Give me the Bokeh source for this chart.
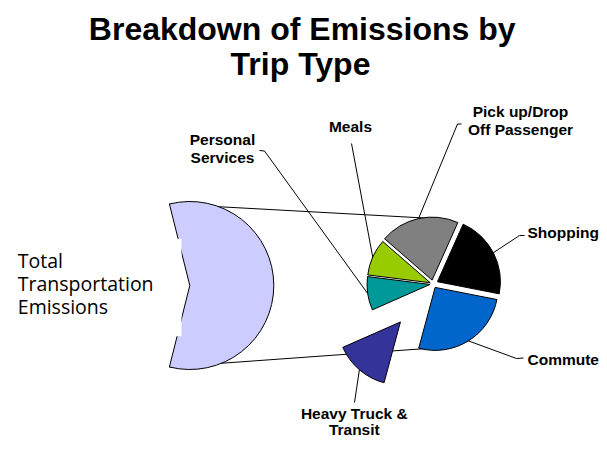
import numpy as np
from bokeh.plotting import figure
from bokeh.models import Range1d, ColumnDataSource
from bokeh.core.properties import value
from bokeh.embed import file_html
from bokeh.resources import INLINE

# ---------------- data ----------------
categories = ["Pick up/Drop Off Passenger", "Shopping", "Commute",
              "Heavy Truck & Transit", "Personal Services", "Meals"]
shares = [20.3, 21.4, 26.1, 14.2, 8.6, 9.4]          # % of emissions
label_lines = [["Pick up/Drop", "Off Passenger"], ["Shopping"], ["Commute"],
               ["Heavy Truck &", "Transit"], ["Personal", "Services"], ["Meals"]]
colors = ["#808080", "#000000", "#0066CC", "#333399", "#009999", "#99CC00"]

total_label_lines = ["Total", "Transportation", "Emissions"]
total_share = 57.8                                  # % of circle drawn for the total
total_color = "#CCCCFF"

title_lines = ["Breakdown of Emissions by", "Trip Type"]

# ---------------- layout (reference pixels, y down) ----------------
REF_H = 453
PW, PH = 599, 437
TEXT_DY = 7          # compensation for rendered baseline offset
def Y(y):
    return REF_H - y
def TY(y):
    return REF_H - (y - TEXT_DY)

PIE_C = (432.5, 283.5)
PIE_R = 63
PIE_START = 139.0
explode = [4, 5, 4, 50, 3, 3]
TOT_C = (189.3, 285.0)
TOT_R = 84

label_pos = [(520, 118.3, "center", 18), (527, 239.3, "left", 18), (527, 365.7, "left", 18),
             (353.8, 419.5, "center", 16.5), (222, 145.7, "center", 18), (350, 133.3, "center", 18)]
leader_pts = [[(461, 123.5), (457, 123.5)], [(524, 235), (519, 235)],
              [(523, 357.5), (516, 358)], [(354, 402)],
              [(259, 150), (264, 150.5)], [(351, 143)]]
conn_ends = [(424, 217.5), (440, 347)]

p = figure(width=PW, height=PH, x_range=Range1d(0, PW), y_range=Range1d(Y(PH), Y(0)),
           x_axis_location=None, y_axis_location=None, toolbar_location=None,
           min_border=0, outline_line_color=None, output_backend="svg", title=None)
p.grid.visible = False

# total pie wedge geometry
a = np.deg2rad(total_share / 100 * 360 / 2)
tx, ty = TOT_C[0], Y(TOT_C[1])
corners = [(tx + TOT_R * np.cos(a), ty + TOT_R * np.sin(a)),
           (tx + TOT_R * np.cos(-a), ty + TOT_R * np.sin(-a))]

# connector lines
p.multi_line(xs=[[corners[i][0], conn_ends[i][0]] for i in range(2)],
             ys=[[corners[i][1], Y(conn_ends[i][1])] for i in range(2)],
             line_color="black", line_width=1)

p.wedge(x=tx, y=ty, radius=TOT_R, start_angle=-a, end_angle=a,
        fill_color=total_color, line_color="black", line_width=1)

# label box (white) of total label
p.quad(left=10, right=181, bottom=Y(335.7), top=Y(238.3), fill_color="white", line_color=None)
p.text(x=[17.3] * 3, y=[TY(266.7), TY(290), TY(313.3)], text=total_label_lines,
       text_font=value("Open Sans"), text_font_size="19.5px", text_color="black",
       text_align="left", text_baseline="alphabetic")

# pie slices
tot = float(sum(shares))
bounds = PIE_START - 360.0 * np.cumsum([0] + shares) / tot
hi = np.deg2rad(bounds[:-1])
lo = np.deg2rad(bounds[1:])
mid = (hi + lo) / 2
ex = np.array(explode, dtype=float)
cx = PIE_C[0] + ex * np.cos(mid)
cy = Y(PIE_C[1]) + ex * np.sin(mid)
src = ColumnDataSource(dict(x=cx, y=cy, lo=lo, hi=hi, color=colors, cat=categories))
p.wedge(x="x", y="y", radius=PIE_R, start_angle="lo", end_angle="hi", source=src,
        fill_color="color", line_color="black", line_width=1)

# leader lines
arc_x = cx + PIE_R * np.cos(mid)
arc_y = cy + PIE_R * np.sin(mid)
lxs, lys = [], []
for i, pts in enumerate(leader_pts):
    lxs.append([q[0] for q in pts] + [arc_x[i]])
    lys.append([Y(q[1]) for q in pts] + [arc_y[i]])
p.multi_line(xs=lxs, ys=lys, line_color="black", line_width=1)

# labels
for i, lines in enumerate(label_lines):
    x0, b0, al, lh = label_pos[i]
    p.text(x=[x0] * len(lines), y=[TY(b0 + k * lh) for k in range(len(lines))], text=lines,
           text_font=value("Liberation Sans"), text_font_style="bold", text_font_size="15.5px",
           text_color="black", text_align=al, text_baseline="alphabetic")

# title
p.text(x=[301.7, 300], y=[TY(35), TY(70)], text=title_lines,
       text_font=value("Liberation Sans"), text_font_style="bold", text_font_size="32px",
       text_color="black", text_align="center", text_baseline="alphabetic")

open("out.html", "w").write(file_html(p, INLINE))
